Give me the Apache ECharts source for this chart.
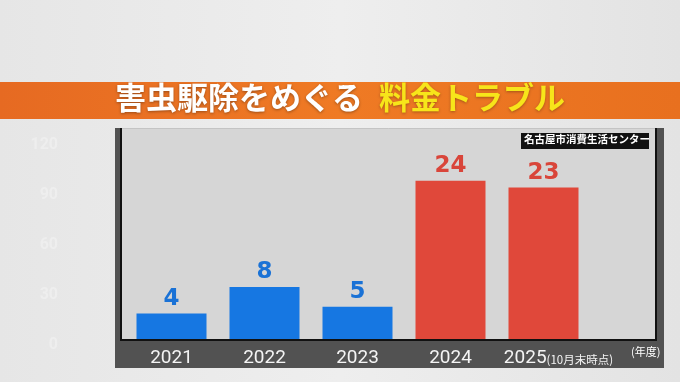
<!DOCTYPE html>
<html><head><meta charset="utf-8">
<script src="https://cdn.jsdelivr.net/npm/echarts@6/dist/echarts.min.js"></script>
<style>html,body{margin:0;padding:0;background:#e9e9e9}#c{width:680px;height:382px}</style>
</head><body><div id="c"></div>
<script>
const categories = ['2021', '2022', '2023', '2024', '2025'];
const values = [4, 8, 5, 24, 23];
const titleWhite = '害虫駆除をめぐる';
const titleYellow = '料金トラブル';
const sourceText = '名古屋市消費生活センター';
const unitText = '(年度)';
const noteText = '(10月末時点)';
const ghostTicks = ['120', '90', '60', '30', '0'];

const chart = echarts.init(document.getElementById('c'));
const JP = '"Noto Sans CJK JP", "Noto Sans", sans-serif';
const blue = '#1677e2', red = '#e0483a';
const blueTxt = '#1a72d6', redTxt = '#d9453a';

const ghost = ghostTicks.map(function(t, i){
  return {type:'text', z:-8, right: 680-58, top: 137 + i*50, style:{text:t, fill:'rgba(255,255,255,0.3)', fontSize:16, fontWeight:'bold', fontFamily:'Roboto, sans-serif', align:'right'}};
});

chart.setOption({
  backgroundColor: '#e9e9e9',
  animation: false,
  graphic: [
    {type:'rect', z:-10, shape:{x:0,y:0,width:680,height:382}, style:{fill:new echarts.graphic.LinearGradient(0,0,1,0,[{offset:0,color:'#e6e6e6'},{offset:0.5,color:'#eeeeee'},{offset:1,color:'#e3e3e3'}])}},
    {type:'rect', z:-9, shape:{x:0,y:82,width:680,height:37}, style:{fill:new echarts.graphic.LinearGradient(0,0,1,0,[{offset:0,color:'#e66a22'},{offset:0.5,color:'#ef7a24'},{offset:1,color:'#e8701f'}])}},
    {type:'text', z:5, left:'center', top:82, style:{rich:{w:{fill:'#ffffff',fontSize:31,fontWeight:'bold',fontFamily:JP,textShadowColor:'rgba(0,0,0,0.35)',textShadowBlur:3,textShadowOffsetY:1},sp:{width:16},y:{fill:'#f7e51a',fontSize:31,fontWeight:'bold',fontFamily:JP,textShadowColor:'rgba(0,0,0,0.3)',textShadowBlur:3,textShadowOffsetY:1}}, text:'{w|'+titleWhite+'}{sp|}{y|'+titleYellow+'}'}},
    {type:'rect', z:-8, shape:{x:115,y:128,width:549,height:240}, style:{fill:'#525252'}},
    {type:'rect', z:-7, shape:{x:121,y:128,width:535,height:212}, style:{fill:'#d6d6d6'}},
    {type:'line', z:-6, shape:{x1:121,y1:128.5,x2:656,y2:128.5}, style:{stroke:'#c4c4c4', lineWidth:1}},
    {type:'polyline', z:4, shape:{points:[[121,128],[121,340],[656,340],[656,128]]}, style:{stroke:'#111111', lineWidth:2, fill:null}},
    {type:'rect', z:5, shape:{x:521,y:133,width:128,height:16}, style:{fill:'#111111'}},
    {type:'text', z:6, left:524, top:134, style:{text:sourceText, fill:'#ffffff', fontSize:10.5, fontWeight:'bold', fontFamily:JP}},
    {type:'text', z:6, left:631, top:346, style:{text:unitText, fill:'#ffffff', fontSize:11, fontFamily:JP}}
  ].concat(ghost),
  grid: {left:125, right:90, top:141, bottom:42},
  xAxis: {
    type:'category', data:categories,
    axisLine:{show:false},
    axisTick:{show:false},
    axisLabel:{interval:0, color:'#f4f4f4', fontSize:19, fontFamily:'Roboto, "Liberation Sans", sans-serif', fontWeight:'normal', margin:9,
      formatter:function(v, i){ return i === categories.length-1 ? '{sp|}' + v + '{s|'+noteText+'}' : v; },
      rich:{sp:{width:30}, s:{color:'#f4f4f4', fontSize:11.5, fontFamily:JP, padding:[3,0,0,0]}}}
  },
  yAxis: {type:'value', min:0, max:30, show:false, splitLine:{show:false}},
  series: [{
    type:'bar', barWidth:70,
    data: values.map(function(v,i){ return {value:v, label:{color: i<3 ? blueTxt : redTxt}}; }),
    itemStyle:{color:function(p){ return p.dataIndex < 3 ? blue : red; }},
    label:{show:true, position:'top', distance:3, fontSize:23, fontWeight:'bold', fontFamily:'"DejaVu Sans", sans-serif'}
  }]
});
</script></body></html>
